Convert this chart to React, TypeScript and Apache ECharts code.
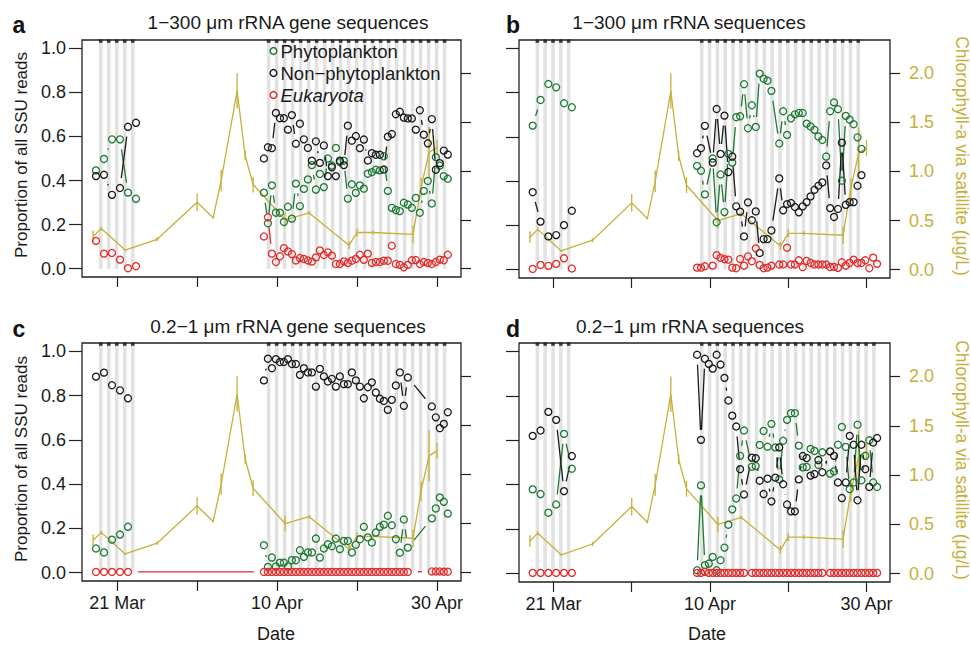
import React, { useEffect, useRef } from "react";
import * as echarts from "echarts";

const FONT = "'Liberation Sans', Arial, Helvetica, sans-serif";
const GREEN = "#1d7a35";
const BLACK = "#1a1a1a";
const RED = "#e32b2b";
const OLIVE = "#c6b03a";
const STRIPE = "#e2e2e2";
const N = null;

// sampling times, in days after 21 Mar (day 0 = 21 Mar)
const sampleDays = [
  -2.65, -1.65, -0.65, 0.35, 1.35, 2.35,
  18.35, 18.85, 19.35, 19.85, 20.35, 20.85, 21.35, 21.85, 22.35, 22.85,
  23.35, 23.85, 24.35, 24.85, 25.35, 25.85, 26.35, 26.85, 27.35, 27.85,
  28.35, 28.85, 29.35, 29.85, 30.35, 30.85, 31.35, 31.85, 32.35, 32.85,
  33.35, 33.85, 34.35, 34.85, 35.35, 35.85, 36.35, 36.85, 37.35, 37.85,
  38.35, 38.85, 39.35, 39.85, 40.35, 40.85, 41.35,
];

// x axis ticks / labels
const xTickDays = [0, 10, 20, 30, 40];
const xLabelDays = [0, 20, 40];
const xTickLabels = ["21 Mar", "10 Apr", "30 Apr"];
const yTicks = [0, 0.2, 0.4, 0.6, 0.8, 1.0];
const chlTicks = [0, 0.5, 1.0, 1.5, 2.0];

// night periods (stripes) – day numbers
const nightsEarly = [-3, -2, -1, 0, 1];
const nightsLateLong = [18, 19, 20, 21, 22, 23, 24, 25, 26, 27, 28, 29, 30, 31, 32, 33, 34, 35, 36, 37, 38, 39, 40];
const nightsLateShort = [18, 19, 20, 21, 22, 23, 24, 25, 26, 27, 28, 29, 30, 31, 32, 33, 34, 35, 36, 37, 38];

// chlorophyll-a via satellite
const chlDays = [-3, -2, 1, 5, 10, 12, 13, 15, 16, 17, 21, 24, 29, 30, 32, 37, 38, 39, 40];
const chlValues = [0.33, 0.41, 0.19, 0.30, 0.68, 0.52, 0.90, 1.82, 1.16, 0.86, 0.50, 0.57, 0.24, 0.37, 0.37, 0.35, 0.83, 1.19, 1.24];
const chlErr = [0.06, 0.02, 0.01, 0.02, 0.09, 0.01, 0.11, 0.18, 0.05, 0.08, 0.08, 0.02, 0.04, 0.04, 0.02, 0.09, 0.10, 0.26, 0.08];

// panel a: 1-300 µm rRNA gene sequences
const aPhyto = [0.446, 0.498, 0.587, 0.587, 0.345, 0.317,
  0.345, 0.206, 0.378, 0.254, 0.254, 0.212, 0.281, 0.227, 0.386, 0.284,
  0.362, 0.405, 0.47, 0.359, 0.43, 0.37, 0.50, 0.468, 0.548, 0.483,
  0.49, 0.318, 0.383, 0.344, 0.378, 0.363, 0.431, 0.438, 0.449, 0.446,
  0.51, 0.353, 0.276, 0.266, 0.261, 0.299, 0.291, 0.276, 0.321, 0.254,
  0.353, 0.398, 0.296, 0.506, 0.468, 0.42, 0.408];
const aNonPhyto = [0.42, 0.426, 0.335, 0.366, 0.644, 0.662,
  0.50, 0.551, 0.547, 0.707, 0.683, 0.683, 0.631, 0.697, 0.567, 0.658,
  0.587, 0.548, 0.49, 0.578, 0.48, 0.559, 0.42, 0.46, 0.42, 0.49,
  0.47, 0.649, 0.581, 0.602, 0.547, 0.586, 0.491, 0.524, 0.517, 0.517,
  0.45, 0.599, 0.611, 0.701, 0.712, 0.686, 0.682, 0.682, 0.631, 0.719,
  0.608, 0.569, 0.679, 0.449, 0.479, 0.536, 0.518];
const aEuk = [0.126, 0.068, 0.071, 0.041, 0.002, 0.011,
  0.146, 0.233, 0.068, 0.03, 0.056, 0.093, 0.078, 0.066, 0.037, 0.048,
  0.044, 0.037, 0.032, 0.051, 0.083, 0.062, 0.074, 0.059, 0.021, 0.021,
  0.033, 0.026, 0.036, 0.044, 0.063, 0.04, 0.068, 0.026, 0.03, 0.03,
  0.036, 0.036, 0.104, 0.021, 0.017, 0.006, 0.017, 0.038, 0.039, 0.021,
  0.03, 0.026, 0.021, 0.03, 0.041, 0.038, 0.063];

// panel b: 1-300 µm rRNA sequences
const bPhyto = [0.651, 0.767, 0.839, 0.824, 0.752, 0.734,
  0.469, 0.447, 0.34, N, 0.502, 0.214, 0.43, 0.26, 0.523, 0.484,
  0.689, 0.693, 0.838, 0.639, 0.743, 0.645, 0.886, 0.863, 0.854, 0.808,
  N, 0.57, 0.716, 0.609, 0.684, 0.702, 0.708, 0.708, 0.66, 0.647,
  0.632, 0.602, 0.586, 0.511, 0.716, 0.756, 0.725, 0.402, 0.695, 0.678,
  0.657, 0.598, 0.546, N, N, N, N];
const bNonPhyto = [0.35, 0.217, 0.15, 0.156, 0.201, 0.266,
  0.526, 0.549, 0.65, N, 0.484, 0.726, 0.523, 0.696, 0.441, 0.511,
  0.286, 0.262, 0.15, 0.304, 0.223, 0.263, 0.075, 0.138, 0.138, 0.177,
  N, 0.412, 0.268, 0.296, 0.301, 0.283, 0.259, 0.286, 0.305, 0.331,
  0.361, 0.379, 0.394, 0.471, 0.278, 0.238, 0.274, 0.574, 0.293, 0.305,
  0.305, 0.379, 0.427, N, N, N, N];
const bEuk = [0.003, 0.021, 0.017, 0.026, 0.051, 0.005,
  0.009, 0.009, 0.015, N, 0.018, 0.065, 0.053, 0.047, 0.045, 0.009,
  0.006, 0.048, 0.018, 0.06, 0.038, 0.096, 0.021, 0.006, 0.009, 0.018,
  N, 0.023, 0.023, 0.099, 0.023, 0.023, 0.042, 0.011, 0.039, 0.03,
  0.023, 0.023, 0.023, 0.023, 0.012, 0.012, 0.008, 0.033, 0.018, 0.03,
  0.045, 0.03, 0.03, 0.042, 0.006, 0.054, 0.026];

// panel c: 0.2-1 µm rRNA gene sequences
const cPhyto = [0.109, 0.091, 0.149, 0.172, 0.207, N,
  0.124, 0.026, 0.068, 0.028, 0.045, 0.045, 0.028, 0.056, 0.056, 0.101,
  0.071, 0.091, 0.091, 0.154, 0.068, 0.109, 0.128, 0.119, 0.154, 0.106,
  0.143, 0.143, 0.091, 0.126, 0.151, 0.207, 0.159, 0.136, 0.181, 0.207,
  0.217, 0.257, 0.214, 0.151, 0.09, 0.24, 0.113, N, N, N,
  N, N, 0.245, 0.29, 0.34, 0.32, 0.267];
const cNonPhyto = [0.886, 0.904, 0.847, 0.824, 0.788, N,
  0.869, 0.967, 0.924, 0.965, 0.952, 0.952, 0.965, 0.943, 0.943, 0.894,
  0.924, 0.905, 0.905, 0.841, 0.921, 0.887, 0.864, 0.876, 0.841, 0.887,
  0.852, 0.852, 0.905, 0.869, 0.841, 0.788, 0.838, 0.86, 0.814, 0.786,
  0.776, 0.736, 0.781, 0.846, 0.905, 0.754, 0.882, N, N, N,
  N, N, 0.751, 0.702, 0.653, 0.672, 0.725];
const cEuk = [0.003, 0.003, 0.003, 0.003, 0.003, N,
  0.003, 0.003, 0.003, 0.003, 0.003, 0.003, 0.003, 0.003, 0.003, 0.003,
  0.003, 0.003, 0.003, 0.003, 0.003, 0.003, 0.003, 0.003, 0.003, 0.003,
  0.003, 0.003, 0.003, 0.003, 0.003, 0.003, 0.003, 0.003, 0.003, 0.003,
  0.003, 0.003, 0.003, 0.003, 0.003, 0.003, 0.003, N, N, N,
  N, N, 0.005, 0.005, 0.005, 0.004, 0.004];

// panel d: 0.2-1 µm rRNA sequences
const dPhyto = [0.379, 0.358, 0.274, 0.311, 0.629, 0.472,
  0.015, 0.397, 0.038, 0.045, 0.075, 0.015, 0.06, 0.117, 0.22, 0.289,
  0.338, 0.53, 0.644, N, 0.481, 0.484, 0.579, 0.642, 0.571, 0.674,
  0.568, 0.424, 0.598, 0.692, 0.722, 0.722, 0.576, 0.478, 0.48, 0.561,
  0.552, 0.489, 0.546, N, 0.45, 0.46, 0.58, 0.66, 0.57, 0.38,
  0.41, 0.67, 0.42, 0.53, 0.60, 0.41, 0.39];
const dNonPhyto = [0.62, 0.644, 0.728, 0.692, 0.371, 0.529,
  0.985, 0.602, 0.967, 0.944, 0.923, 0.985, 0.941, 0.881, 0.779, 0.711,
  0.662, 0.47, 0.356, N, 0.522, 0.519, 0.418, 0.358, 0.427, 0.325,
  0.432, 0.568, 0.402, 0.311, 0.28, 0.28, 0.424, 0.529, 0.52, 0.441,
  0.448, 0.511, 0.456, N, 0.55, 0.53, 0.41, 0.34, 0.41, 0.62,
  0.58, 0.33, 0.58, 0.47, 0.39, 0.59, 0.61];
const dEuk = [0.003, 0.003, 0.003, 0.003, 0.003, 0.003,
  0.003, 0.003, 0.008, 0.003, 0.003, 0.003, 0.003, 0.003, 0.003, 0.003,
  0.003, 0.003, 0.003, N, 0.003, 0.003, 0.003, 0.003, 0.003, 0.003,
  0.003, 0.003, 0.003, 0.003, 0.003, 0.003, 0.003, 0.003, 0.003, 0.003,
  0.003, 0.003, 0.003, N, 0.003, 0.003, 0.003, 0.003, 0.003, 0.003,
  0.003, 0.003, 0.003, 0.003, 0.003, 0.003, 0.003];

const seriesNames = ["Phytoplankton", "Non\u2212phytoplankton", "Eukaryota"];
const panelTitles = [
  "1\u2212300 \u03bcm rRNA gene sequences",
  "1\u2212300 \u03bcm rRNA sequences",
  "0.2\u22121 \u03bcm rRNA gene sequences",
  "0.2\u22121 \u03bcm rRNA sequences",
];
const panelLetters = ["a", "b", "c", "d"];

const X_MIN = -4.4, X_MAX = 43.0;
const Y_MIN = -0.038, Y_MAX = 1.038;
const CHL_MIN = -0.0857, CHL_MAX = 2.34;
const GAP = 10;

const panels = [
  { grid: { left: 82, top: 40, width: 379, height: 237 }, phyto: aPhyto, non: aNonPhyto, euk: aEuk, bridge: false, nights: nightsEarly.concat(nightsLateLong), left: true, right: false, bottom: false },
  { grid: { left: 519, top: 40, width: 371, height: 238 }, phyto: bPhyto, non: bNonPhyto, euk: bEuk, bridge: false, nights: nightsEarly.concat(nightsLateShort), left: false, right: true, bottom: false },
  { grid: { left: 82, top: 343, width: 379, height: 238 }, phyto: cPhyto, non: cNonPhyto, euk: cEuk, bridge: true, nights: nightsEarly.concat(nightsLateLong), left: true, right: false, bottom: true },
  { grid: { left: 519, top: 343, width: 371, height: 239 }, phyto: dPhyto, non: dNonPhyto, euk: dEuk, bridge: false, nights: nightsEarly.concat(nightsLateLong), left: false, right: true, bottom: true },
];

// consecutive samples are joined (R type "b"); gaps of missing samples up to 3 days are bridged
function segmentsOf(vals: (number | null)[], bridge: boolean) {
  const segs: number[][] = [];
  let prev = -1;
  for (let i = 0; i < vals.length; i++) {
    const v = vals[i];
    if (v == null) continue;
    if (prev >= 0) {
      const gap = sampleDays[i] - sampleDays[prev];
      if (gap <= 3.1 || (bridge && gap > 10)) {
        segs.push([sampleDays[prev], vals[prev] as number, sampleDays[i], v]);
      }
    }
    prev = i;
  }
  return segs;
}

function pointsOf(vals: (number | null)[]) {
  const pts: number[][] = [];
  vals.forEach((v, i) => {
    if (v != null) pts.push([sampleDays[i], v]);
  });
  return pts;
}

function typeB(name: string, color: string, vals: (number | null)[], bridge: boolean, gi: number) {
  return [
    {
      type: "custom",
      name,
      xAxisIndex: gi,
      yAxisIndex: 2 * gi,
      silent: true,
      z: 3,
      encode: { x: [0, 2], y: [1, 3] },
      data: segmentsOf(vals, bridge),
      renderItem: (_p: any, api: any) => {
        const a = api.coord([api.value(0), api.value(1)]);
        const b = api.coord([api.value(2), api.value(3)]);
        const dx = b[0] - a[0];
        const dy = b[1] - a[1];
        const len = Math.hypot(dx, dy);
        if (len <= 2 * GAP + 0.5) return { type: "group", children: [] };
        const f = GAP / len;
        return {
          type: "line",
          shape: { x1: a[0] + dx * f, y1: a[1] + dy * f, x2: b[0] - dx * f, y2: b[1] - dy * f },
          style: { stroke: color, lineWidth: 1.3, fill: null },
        };
      },
    },
    {
      type: "scatter",
      name,
      xAxisIndex: gi,
      yAxisIndex: 2 * gi,
      silent: true,
      z: 4,
      symbol: "circle",
      symbolSize: 7,
      itemStyle: { color: "rgba(0,0,0,0)", borderColor: color, borderWidth: 1.3, opacity: 1 },
      data: pointsOf(vals),
    },
  ];
}

function buildOption() {
  const grid: any[] = [];
  const xAxis: any[] = [];
  const yAxis: any[] = [];
  const series: any[] = [];
  const graphic: any[] = [];
  const tickStyle = { color: "#222", width: 1.2 };

  panels.forEach((p, i) => {
    grid.push({ ...p.grid, containLabel: false, outerBoundsMode: "none", show: false });
    xAxis.push({
      type: "value",
      gridIndex: i,
      min: X_MIN,
      max: X_MAX,
      position: "bottom",
      axisLine: { show: false, onZero: false },
      splitLine: { show: false },
      axisTick: { show: true, inside: false, length: 10, customValues: xTickDays, lineStyle: tickStyle },
      axisLabel: {
        show: p.bottom,
        customValues: xLabelDays,
        formatter: (v: number) => xTickLabels[xLabelDays.indexOf(Math.round(v))] ?? "",
        margin: 13,
        fontSize: 18,
        fontFamily: FONT,
        color: "#1a1a1a",
      },
    });
    yAxis.push({
      type: "value",
      gridIndex: i,
      min: Y_MIN,
      max: Y_MAX,
      position: "left",
      axisLine: { show: false, onZero: false },
      splitLine: { show: false },
      axisTick: { show: true, inside: false, length: 13, customValues: yTicks, lineStyle: tickStyle },
      axisLabel: {
        show: p.left,
        customValues: yTicks,
        formatter: (v: number) => v.toFixed(1),
        margin: 16,
        fontSize: 18,
        fontFamily: FONT,
        color: "#1a1a1a",
      },
    });
    yAxis.push({
      type: "value",
      gridIndex: i,
      min: CHL_MIN,
      max: CHL_MAX,
      position: "right",
      axisLine: { show: false, onZero: false },
      splitLine: { show: false },
      axisTick: { show: true, inside: false, length: 10, customValues: chlTicks, lineStyle: tickStyle },
      axisLabel: {
        show: p.right,
        customValues: chlTicks,
        formatter: (v: number) => v.toFixed(1),
        margin: 19,
        fontSize: 18,
        fontFamily: FONT,
        color: OLIVE,
      },
    });

    // night stripes
    series.push({
      type: "custom",
      xAxisIndex: i,
      yAxisIndex: 2 * i,
      silent: true,
      z: 1,
      clip: false,
      encode: { x: 0, y: 1 },
      data: p.nights.map((d) => [d, 0]),
      renderItem: (_p: any, api: any) => {
        const d = api.value(0);
        const p0 = api.coord([d + 0.72, 0]);
        const p1 = api.coord([d + 1.17, Y_MAX]);
        const w = p1[0] - p0[0];
        return {
          type: "group",
          children: [
            {
              type: "rect",
              shape: { x: p0[0], y: p1[1], width: w, height: p0[1] - p1[1] },
              style: { fill: STRIPE },
            },
            {
              type: "rect",
              z2: 200,
              shape: { x: p0[0], y: p1[1] - 0.6, width: w, height: 3.4 },
              style: { fill: "#3a3a3a" },
            },
          ],
        };
      },
    });

    // chlorophyll line + error bars
    series.push({
      type: "line",
      xAxisIndex: i,
      yAxisIndex: 2 * i + 1,
      silent: true,
      z: 2,
      symbol: "none",
      showSymbol: false,
      lineStyle: { color: OLIVE, width: 1.3 },
      itemStyle: { color: OLIVE },
      data: chlDays.map((d, j) => [d, chlValues[j]]),
    });
    series.push({
      type: "custom",
      xAxisIndex: i,
      yAxisIndex: 2 * i + 1,
      silent: true,
      z: 2,
      encode: { x: 0, y: [1, 2] },
      data: chlDays.map((d, j) => [d, chlValues[j] - chlErr[j], chlValues[j] + chlErr[j]]),
      renderItem: (_p: any, api: any) => {
        const lo = api.coord([api.value(0), api.value(1)]);
        const hi = api.coord([api.value(0), api.value(2)]);
        return {
          type: "line",
          shape: { x1: lo[0], y1: lo[1], x2: hi[0], y2: hi[1] },
          style: { stroke: OLIVE, lineWidth: 1.3 },
        };
      },
    });

    series.push(...typeB(seriesNames[0], GREEN, p.phyto, false, i));
    series.push(...typeB(seriesNames[1], BLACK, p.non, false, i));
    series.push(...typeB(seriesNames[2], RED, p.euk, p.bridge, i));

    // box
    graphic.push({
      type: "rect",
      silent: true,
      z: 90,
      shape: { x: p.grid.left, y: p.grid.top, width: p.grid.width, height: p.grid.height },
      style: { fill: "none", stroke: "#222", lineWidth: 1.3 },
    });
  });

  const titlePos = [
    [288, 22],
    [689, 22],
    [288, 326],
    [690, 326],
  ];
  const letterPos = [
    [19, 24.5],
    [513, 24.5],
    [19, 328.5],
    [513, 328.5],
  ];
  panelTitles.forEach((t, i) => {
    graphic.push({
      type: "text",
      silent: true,
      z: 100,
      x: titlePos[i][0],
      y: titlePos[i][1],
      style: { text: t, x: 0, y: 0, textAlign: "center", textVerticalAlign: "middle", font: `19px ${FONT}`, fill: "#1a1a1a" },
    });
    graphic.push({
      type: "text",
      silent: true,
      z: 100,
      x: letterPos[i][0],
      y: letterPos[i][1],
      style: { text: panelLetters[i], x: 0, y: 0, textAlign: "center", textVerticalAlign: "middle", font: `bold 23px ${FONT}`, fill: "#111" },
    });
  });

  // axis names
  [155, 459].forEach((cy) => {
    graphic.push({
      type: "text",
      silent: true,
      z: 100,
      x: 21.5,
      y: cy,
      rotation: Math.PI / 2,
      style: { text: "Proportion of all SSU reads", x: 0, y: 0, textAlign: "center", textVerticalAlign: "middle", font: `17px ${FONT}`, fill: "#1a1a1a" },
    });
  });
  [156, 460].forEach((cy) => {
    graphic.push({
      type: "text",
      silent: true,
      z: 100,
      x: 962,
      y: cy,
      rotation: -Math.PI / 2,
      style: { text: "Chlorophyll-a via satillite (\u03bcg/L)", x: 0, y: 0, textAlign: "center", textVerticalAlign: "middle", font: `17.5px ${FONT}`, fill: OLIVE },
    });
  });
  [276, 707].forEach((cx) => {
    graphic.push({
      type: "text",
      silent: true,
      z: 100,
      x: cx,
      y: 634,
      style: { text: "Date", x: 0, y: 0, textAlign: "center", textVerticalAlign: "middle", font: `18px ${FONT}`, fill: "#1a1a1a" },
    });
  });

  // legend (panel a)
  const legendColors = [GREEN, BLACK, RED];
  seriesNames.forEach((name, i) => {
    const cy = 51 + 22 * i;
    graphic.push({
      type: "circle",
      silent: true,
      z: 100,
      shape: { cx: 273.5, cy, r: 3.4 },
      style: { fill: "none", stroke: legendColors[i], lineWidth: 1.4 },
    });
    graphic.push({
      type: "text",
      silent: true,
      z: 100,
      x: 280.5,
      y: cy,
      style: {
        text: name,
        x: 0,
        y: 0,
        textAlign: "left",
        textVerticalAlign: "middle",
        font: `${i === 2 ? "italic " : ""}18.5px ${FONT}`,
        fill: "#1a1a1a",
      },
    });
  });

  return {
    animation: false,
    backgroundColor: "#ffffff",
    textStyle: { fontFamily: FONT },
    grid,
    xAxis,
    yAxis,
    series,
    graphic,
  };
}

export default function App() {
  const ref = useRef<HTMLDivElement>(null);
  useEffect(() => {
    if (!ref.current) return;
    const chart = echarts.init(ref.current, null, { renderer: "svg" });
    chart.setOption(buildOption() as any);
    return () => chart.dispose();
  }, []);
  return (
    <div
      ref={ref}
      style={{ position: "fixed", left: 0, top: 0, width: 971, height: 645, background: "#fff" }}
    />
  );
}
